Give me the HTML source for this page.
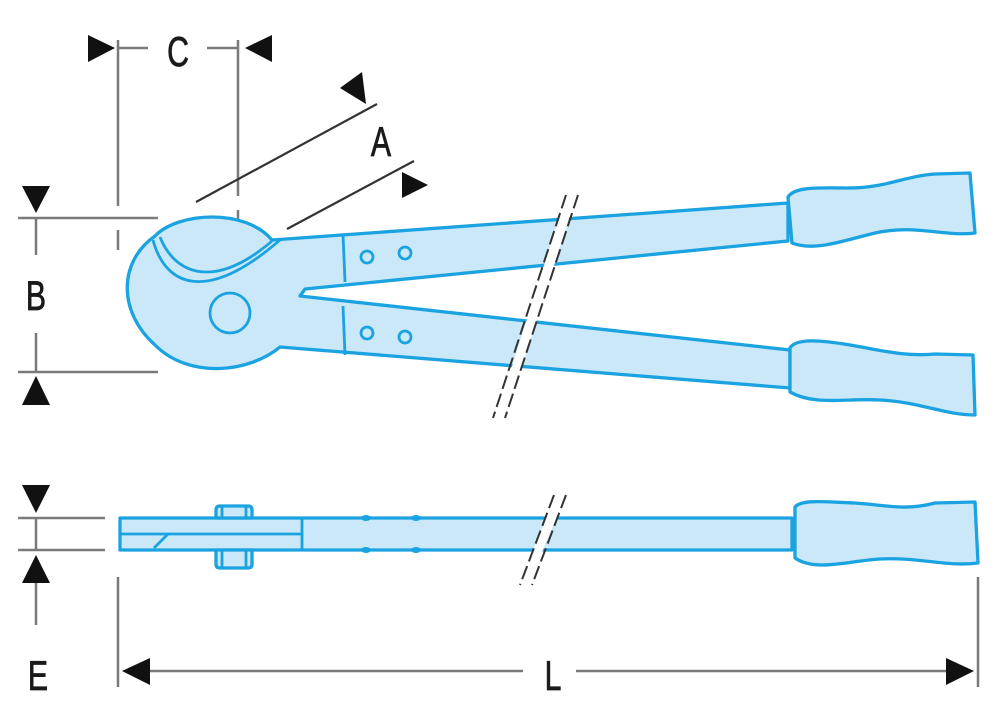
<!DOCTYPE html>
<html><head><meta charset="utf-8"><style>
html,body{margin:0;padding:0;background:#fff;width:1000px;height:719px;overflow:hidden}
svg{display:block}
.t{font-family:"Liberation Sans",sans-serif;font-size:42px;fill:#1a1a1a;stroke:#1a1a1a;stroke-width:0.8}
</style></head><body>
<svg width="1000" height="719" viewBox="0 0 1000 719" xmlns="http://www.w3.org/2000/svg">
<g stroke="#7a7a7a" stroke-width="2.5" fill="none">
 <line x1="118" y1="40" x2="118" y2="206"/><line x1="118" y1="230" x2="118" y2="250"/>
 <line x1="238" y1="40" x2="238" y2="196"/><line x1="238" y1="210" x2="238" y2="222"/>
 <line x1="118" y1="48" x2="148" y2="48"/><line x1="207" y1="48" x2="238" y2="48"/>
 <line x1="18" y1="218" x2="158" y2="218"/><line x1="18" y1="372" x2="158" y2="372"/>
 <line x1="36" y1="218" x2="36" y2="255"/><line x1="36" y1="333" x2="36" y2="372"/>
 <line x1="18" y1="518" x2="105" y2="518"/><line x1="18" y1="550" x2="105" y2="550"/>
 <line x1="36" y1="518" x2="36" y2="550"/><line x1="36" y1="583" x2="36" y2="625"/>
 <line x1="118" y1="577" x2="118" y2="687"/><line x1="978" y1="577" x2="978" y2="687"/>
 <line x1="140" y1="671" x2="523" y2="671"/><line x1="576" y1="671" x2="955" y2="671"/>
</g>
<g stroke="#333" stroke-width="2.2">
 <line x1="196" y1="202" x2="377" y2="104"/>
 <line x1="287" y1="229" x2="414" y2="161"/>
</g>
<g fill="#111">
 <polygon points="88,35 88,62 115,48"/><polygon points="272,35 272,62 245,48"/>
 <polygon points="340,88 362,72 366,104"/><polygon points="402,172 402,198 428,185"/>
 <polygon points="22,186 50,186 36,213"/><polygon points="22,405 50,405 36,376"/>
 <polygon points="22,485 50,485 36,513"/><polygon points="22,583 50,583 36,555"/>
 <polygon points="122,671 150,658 150,685"/><polygon points="974,671 946,658 946,685"/>
</g>
<g class="t">
 <text x="178" y="66" transform="translate(178 0) scale(0.72 1) translate(-178 0)" text-anchor="middle">C</text>
 <text x="381" y="156" transform="translate(381 0) scale(0.72 1) translate(-381 0)" text-anchor="middle">A</text>
 <text x="36" y="310" transform="translate(36 0) scale(0.72 1) translate(-36 0)" text-anchor="middle">B</text>
 <text x="38" y="690" transform="translate(38 0) scale(0.72 1) translate(-38 0)" text-anchor="middle">E</text>
 <text x="553" y="690" transform="translate(553 0) scale(0.72 1) translate(-553 0)" text-anchor="middle">L</text>
</g>
<g stroke="#1aa3e0" stroke-width="3.3" fill="#cbe8f8" stroke-linejoin="round">
 <path d="M155,236 C178,212 245,208 272,240 L788,203 L788,241 L305,289 L300,296 L790,350 L790,388 L280,347 C250,372 190,380 155,345 C118,312 118,262 155,236 Z"/>
 <path d="M788,197 C795,186 820,188 850,188 C885,188 905,176 935,174 L970,173 L975,233 C945,237 915,224 875,233 C845,240 815,252 792,243 Z"/>
 <path d="M790,348 C796,338 820,340 850,345 C880,350 905,357 935,354 L973,355 L975,415 C945,415 920,402 880,400 C845,398 815,406 790,392 Z"/>
 <rect x="120" y="518" width="672" height="32"/>
 <path d="M795,507 C802,499 825,502 855,503 C885,505 905,511 935,503 L975,502 L978,563 C945,567 920,557 880,559 C848,561 815,572 795,558 Z"/>
 <path d="M216,518 L216,510 Q216,506 220,506 L248,506 Q252,506 252,510 L252,518 Z"/>
 <path d="M216,550 L216,564 Q216,568 220,568 L248,568 Q252,568 252,564 L252,550 Z"/>
</g>
<g stroke="#1aa3e0" stroke-width="2.8" fill="none">
 <path d="M160,237 C175,275 215,290 272,241"/>
 <path d="M153,240 C165,285 205,305 280,240"/>
 <circle cx="230" cy="313" r="20"/>
 <line x1="343" y1="234" x2="345" y2="282"/><line x1="343" y1="306" x2="345" y2="355"/>
 <circle cx="367" cy="257" r="6"/><circle cx="405" cy="253" r="6"/>
 <circle cx="367" cy="333" r="6"/><circle cx="405" cy="337" r="6"/>
 <line x1="302" y1="518" x2="302" y2="550"/>
 <line x1="120" y1="534" x2="302" y2="534"/>
 <line x1="154" y1="548" x2="168" y2="534"/>
 <line x1="222" y1="507" x2="222" y2="517"/><line x1="246" y1="507" x2="246" y2="517"/>
 <line x1="222" y1="551" x2="222" y2="567"/><line x1="246" y1="551" x2="246" y2="567"/>
</g>
<g fill="#1aa3e0">
 <ellipse cx="366" cy="518" rx="5" ry="3"/><ellipse cx="416" cy="518" rx="5" ry="3"/>
 <ellipse cx="366" cy="550" rx="5" ry="3"/><ellipse cx="416" cy="550" rx="5" ry="3"/>
</g>
<polygon points="568,190 578,190 505,420 495,420" fill="#fff"/>
<polygon points="556,495 566,495 527,588 517,588" fill="#fff"/>
<g stroke="#333" stroke-width="2" stroke-dasharray="14,5">
 <line x1="566" y1="195" x2="493" y2="418"/><line x1="578" y1="195" x2="505" y2="418"/>
 <line x1="554" y1="495" x2="520" y2="585"/><line x1="566" y1="495" x2="532" y2="585"/>
</g>
</svg>
</body></html>
